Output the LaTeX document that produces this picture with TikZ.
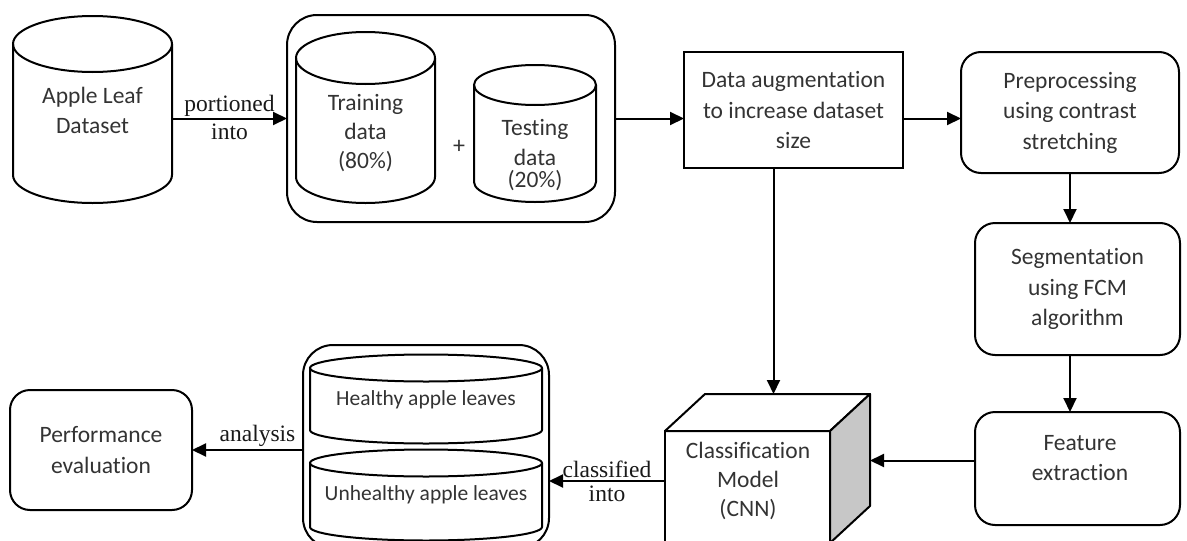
\documentclass[tikz,border=0pt]{standalone}
\usepackage{fontspec}
\setmainfont{Carlito}[Ligatures={NoCommon}]
\newfontfamily\lblfont{Liberation Serif}
\usetikzlibrary{arrows.meta}
\newcommand\drawcyl[5]{%
  \draw[shp] (#1,#3) -- (#1,#4) arc[start angle=180,end angle=0,x radius={(#2-#1)/2},y radius=#5] -- (#2,#3);
  \draw[shp] ({(#1+#2)/2},#3) ellipse[x radius={(#2-#1)/2},y radius=#5];
}
\begin{document}
\begin{tikzpicture}[x=1pt,y=-1pt,
  shp/.style={line width=2pt, draw=black},
  txt/.style={font=\fontsize{23.5}{30.5}\selectfont, text=black!80, align=center, inner sep=0pt},
  ghost/.style={inner sep=0pt, outer sep=0pt},
  sqbox/.style={draw, line width=2pt, inner sep=0pt, outer sep=0pt, align=center, font=\fontsize{23.5}{30.5}\selectfont, text=black!80},
  rbox/.style={sqbox, rounded corners=20pt},
  arr/.style={line width=2pt, -{Triangle[length=14pt,width=13pt]}},
  lbl/.style={font=\lblfont\fontsize{23.5}{26}\selectfont, inner sep=0pt, text=black!90}
]
\useasboundingbox (0,0) rectangle (1187,541);
\clip (0,0) rectangle (1187,541);
\fill[white] (0,0) rectangle (1187,541);

% Apple leaf dataset
\node[ghost, minimum width=159pt, minimum height=187pt] (apple) at (92.5,109.5) {};
\drawcyl{13}{172}{44}{175}{28}
\node[txt] (appletxt) at (92.5,110.5) {Apple Leaf\\Dataset};

% split container
\node[ghost, shp, rounded corners=30pt, minimum width=328pt, minimum height=207pt] (split) at (451,118.5) {};
\drawcyl{296}{435}{58}{177}{26}
\node[txt, font=\fontsize{23.5}{29}\selectfont] (traintxt) at (365.5,133) {Training\\data\\(80\%)};
\node[txt, font=\fontsize{24}{26}\selectfont] (plus) at (459,147) {+};
\drawcyl{474}{596}{85}{182}{20}
\node[txt, font=\fontsize{23.5}{30}\selectfont] (testtxt) at (535,155) {Testing\\data\\[-8pt](20\%)};

\draw[arr] (split.west -| apple.east) -- (split.west)
  node[lbl, midway, above=1pt] (lp) {portioned}
  node[lbl, midway, below=4pt] (li) {into};

% data augmentation
\node[sqbox, minimum width=219pt, minimum height=116pt] (aug) at (793.5,110) {Data augmentation\\to increase dataset\\size};
\draw[arr] (split.east) -- (split.east -| aug.west);

% preprocessing
\node[rbox, minimum width=218pt, minimum height=121pt] (pre) at (1070,112.5) {Preprocessing\\using contrast\\stretching};
\draw[arr] (aug.east |- split.east) -- (pre.west |- split.east);

% segmentation
\node[rbox, minimum width=205pt, minimum height=132pt] (seg) at (1077.5,289) {Segmentation\\using FCM\\algorithm};
\draw[arr] (pre.south) -- (pre.south |- seg.north);

% feature extraction
\node[rbox, minimum width=205pt, minimum height=113pt] (feat) at (1077.5,468.5) {};
\node[txt] (feattxt) at (1080,458) {Feature\\extraction};
\draw[arr] (pre.south |- seg.south) -- (pre.south |- feat.north);

% cube
\node[ghost, shp, fill=white, minimum width=165pt, minimum height=112pt] (cube) at (747.5,487) {};
\coordinate (ctl) at ([shift={(40,-37)}]cube.north west);
\coordinate (ctr) at ([shift={(40,-37)}]cube.north east);
\coordinate (cbr) at ([shift={(40,-37)}]cube.south east);
\draw[shp, fill=white, line join=round] (cube.north west) -- (ctl) -- (ctr) -- (cube.north east) -- cycle;
\draw[shp, fill=black!22, line join=round] (cube.north east) -- (ctr) -- (cbr) -- (cube.south east) -- cycle;
\node[txt, font=\fontsize{23.5}{29}\selectfont] (cubetxt) at (748,481) {Classification\\Model\\(CNN)};

\draw[arr] ([yshift=8pt]feat.west) -- ([yshift=8pt]feat.west -| ctr);
\draw[arr] ([xshift=-20pt]aug.south) -- ([xshift=-20pt]aug.south |- ctl);

% results container
\node[ghost, shp, rounded corners=30pt, minimum width=246pt, minimum height=203pt] (res) at (426,446.5) {};
\drawcyl{310}{542}{368}{430}{13.5}
\node[txt, font=\fontsize{21.5}{26}\selectfont] (healthy) at (426,400) {Healthy apple leaves};
\drawcyl{310}{542}{463}{527}{13.5}
\node[txt, font=\fontsize{21.5}{26}\selectfont] (unhealthy) at (426,495) {Unhealthy apple leaves};

\draw[arr] ([yshift=6pt]cube.west) -- ([yshift=6pt]cube.west -| res.east)
  node[lbl, midway, above=2pt] (lc) {classified}
  node[lbl, midway, below=4pt] (lci) {into};

% performance
\node[rbox, minimum width=182pt, minimum height=120pt] (perf) at (101,450) {Performance\\evaluation};
\draw[arr] (res.west |- perf.east) -- (perf.east)
  node[lbl, pos=0.41, above=2pt] (la) {analysis};
\end{tikzpicture}
\end{document}
